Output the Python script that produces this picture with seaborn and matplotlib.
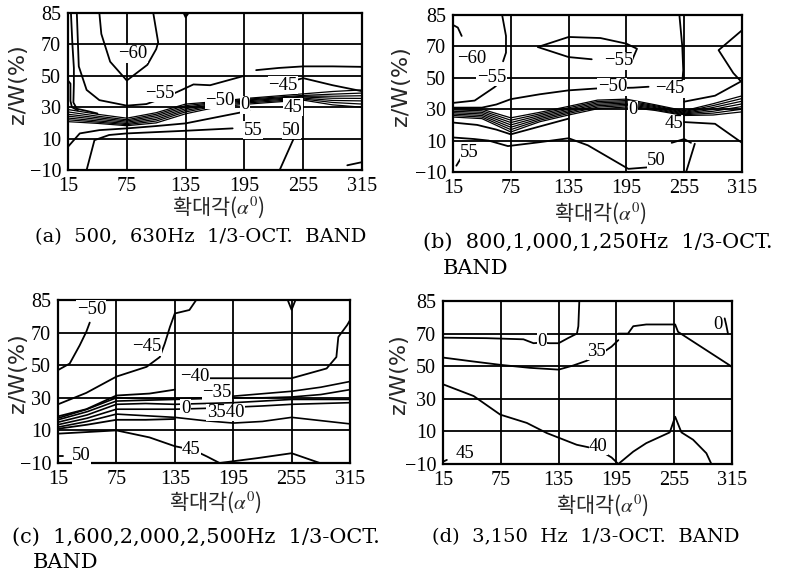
import numpy as np
import pandas as pd
import matplotlib
matplotlib.use("Agg")
import matplotlib.pyplot as plt
import seaborn as sns

# ---------------- data ----------------
ANGLES = [15, 75, 135, 195, 255, 315]
ANGLE_LABELS = ["15", "75", "135", "195", "255", "315"]
ZW_TICKS = [-10, 10, 30, 50, 70, 85]
ZW_LABELS = ["\u221210", "10", "30", "50", "70", "85"]
BAND_X = [15, 45, 75, 105, 135, 165, 195, 225, 255, 285, 315]

# (a) 500, 630 Hz  -- contour lines: (level, angles, z/W)
A_LINES = [
    (-60, [47, 49, 58, 75, 96, 105, 107, 102], [85, 75, 59, 47, 57, 67, 71, 85]),
    (-55, [24, 26, 34, 47, 75, 95, 115, 131, 143, 160, 195],
          [85, 56, 41, 34.5, 31, 32, 36.5, 41, 44.5, 44, 50]),
    (-50, [18, 19.5, 21, 21, 20.5, 24, 35, 45], [85, 70, 55, 45, 33, 29, 27.5, 26]),
    (-50, [15, 17.5, 17.5, 19, 25], [47, 45, 34, 30, 28]),
    (-45, [240, 255, 285, 315], [46, 48.5, 44, 40.2]),
    (-50, [207, 230, 255, 285, 315], [53.6, 55, 56, 56, 55.7]),
    (50, [15, 27, 47, 75, 105, 135, 160, 190, 200], [4.8, 13.3, 15.4, 16.5, 18, 19.7, 22.8, 26.5, 28]),
    (55, [34, 42, 57, 75, 135, 183], [-10, 9, 12.3, 13.3, 15, 16.5]),
    (50, [231, 246, 250], [-10, 11, 14]),
    (50, [300, 315], [-7, -5]),
    (-60, [133, 135, 138], [85, 83, 85]),
]
A_BAND = [
    [28.5, 25.5, 23, 26.5, 32, 33.5, 35.5, 37, 38.5, 40, 41],
    [27, 24.3, 22, 25.5, 31, 33, 35, 36.3, 37.5, 38.3, 39],
    [25.5, 23.3, 21.2, 24.5, 30, 32.5, 34.5, 35.7, 37, 37, 37.3],
    [24.3, 22.3, 20.4, 23.4, 29, 32, 34, 35.2, 36.5, 35.7, 35.6],
    [23.1, 21.3, 19.6, 22.3, 28, 31.3, 33.3, 34.6, 35.8, 34.3, 34],
    [22, 20.5, 18.9, 21.2, 27, 30.6, 32.6, 33.9, 35.2, 33, 32],
    [20.8, 19.7, 18.2, 20, 25.8, 29.8, 31.8, 33.2, 34.5, 31.5, 30],
]
A_TEXT = [("\u221260", 81, 64), ("\u221255", 108.5, 38.7), ("\u221250", 170, 34.5),
          ("0", 196, 31.5), ("\u221245", 234, 44), ("45", 244.6, 30),
          ("55", 204, 15.4), ("50", 243, 15.4)]

# (b) 800, 1,000, 1,250 Hz
B_LINES = [
    (-55, [16, 20, 24], [80, 79, 75]),
    (-60, [66, 70, 70, 67], [85, 75, 66, 60.5]),
    (-55, [159, 135, 103, 135, 168, 195, 206, 199], [61.8, 63.2, 69.6, 74.5, 74, 71.3, 68.5, 58.5]),
    (-55, [15, 37.5, 58, 69], [34, 35.5, 44, 50]),
    (-50, [15, 45, 60, 75, 105, 135, 164, 202, 218], [31, 31, 33, 36.4, 39.5, 42, 43.2, 43.7, 44.3]),
    (-45, [315, 290.7, 306, 314, 287, 255], [77.7, 67.6, 53, 47.7, 38.6, 34.8]),
    (-45, [250, 253, 254, 253], [85, 70, 55, 47]),
    (50, [15, 40, 60, 75, 105, 135], [21.5, 20, 17, 14, 19, 24]),
    (50, [15, 37, 52, 72, 105, 135, 155, 183, 197, 218], [12, 11, 10, 6.5, 9, 11.5, 7, -3, -8, -7]),
    (55, [18.5, 23.7], [-6, -0.7]),
    (50, [242, 255, 262], [8.6, 11, 8.6]),
    (50, [266, 257], [8, -10]),
    (45, [255, 287, 315], [21.8, 20.7, 8.6]),
]
B_BAND = [
    [30.5, 30, 24.5, 28, 31.8, 35.8, 36.4, 32.8, 29, 33.5, 38.5],
    [29.6, 29, 23, 27, 30.9, 34.9, 35.5, 32.2, 28.5, 32.3, 36.8],
    [28.7, 28, 21.5, 26, 30, 34, 34.7, 31.6, 28, 31.1, 35.1],
    [27.8, 27, 20, 25, 29.1, 33.1, 33.9, 31, 27.5, 29.9, 33.4],
    [26.9, 26, 18.5, 24, 28.2, 32.2, 33.1, 30.4, 27, 28.7, 31.7],
    [26, 25, 17, 23, 27.3, 31.3, 32.3, 29.8, 26.5, 27.5, 30],
    [25, 24, 15.5, 22, 26.3, 30.3, 31.4, 29.2, 26, 26.3, 28.3],
]
B_TEXT = [("\u221260", 34, 62.5), ("\u221255", 55, 50.5), ("\u221255", 186.7, 60.8),
          ("\u221250", 180.4, 44.3), ("\u221245", 240, 43), ("0", 202, 29.6),
          ("45", 244, 20.7), ("55", 32.3, 2.4), ("50", 226.5, -2.8)]

# (c) 1,600, 2,000, 2,500 Hz
C_LINES = [
    (-50, [15, 27, 37.3, 44.1, 47.6], [47, 51, 62.2, 70.4, 74.6]),
    (-45, [15, 44, 75, 106, 119.6, 124.7, 130, 135, 150, 157],
          [26, 33, 43, 49, 55, 63.3, 72.6, 78.8, 80.4, 85]),
    (-40, [15, 44, 75, 109, 135], [18.6, 23, 31.4, 32.6, 35]),
    (-40, [165, 195, 255, 291, 301, 303, 312, 315], [42, 42, 42, 48, 55, 67.3, 73.4, 75.7]),
    (45, [15, 45, 75, 109, 135, 154, 168, 181], [8, 9, 10, 5.7, 0.3, -2, -6, -10]),
    (50, [181, 220, 255, 284], [-10, -7, -4, -10]),
    (-50, [251, 255, 259], [85, 80.5, 85]),
    (50, [15, 20], [-5.5, -5.5]),
    (35, [15, 45, 75, 105, 135], [11, 13.5, 16.5, 16.5, 17]),
]
C_BAND = [
    [17.5, 23, 30, 29.5, 29.5, 30, 31, 32.5, 34, 36.5, 40],
    [16.5, 21.5, 28, 28.5, 29, 29.5, 30, 30, 30.5, 32, 35],
    [15, 19.5, 26, 26.5, 26, 26.5, 27, 28, 29, 29, 29],
    [13.5, 17.5, 23, 23, 23, 23.5, 24.2, 25, 26, 26.5, 27],
    [12, 15.5, 20, 19, 18, 16, 14.5, 15.5, 18, 16, 14],
]
C_TEXT = [("\u221250", 49.3, 80.8), ("\u221245", 106, 61.2), ("\u221240", 155.6, 43),
          ("\u221235", 178, 33.5), ("0", 146, 23.7), ("3540", 187, 21),
          ("45", 152, -1.8), ("50", 39, -5.5)]

# (d) 3,150 Hz
D_LINES = [
    (0, [15, 60, 98.5, 109, 117.5, 126, 135, 145, 154, 155.5, 156.5],
        [67.5, 67.2, 66.5, 64.1, 64.5, 64.1, 64.1, 67.3, 70, 73.4, 85]),
    (35, [15, 45, 75, 105, 135, 150, 164, 180, 190, 197],
         [55.3, 53, 50.8, 49, 47.9, 50.4, 53.3, 58, 62, 66]),
    (35, [197, 207, 212.5, 226, 256, 259, 313, 315], [70, 70, 73.4, 74.2, 74.2, 70.8, 50.4, 49.4]),
    (0, [307.4, 309, 310.8], [77, 74, 70]),
    (40, [15, 46.8, 74.4, 102, 122.7, 153.8, 176, 190, 197],
         [38.9, 31.7, 20.3, 15.2, 9, 1.8, -1, -6, -10]),
    (40, [197, 212.5, 226, 250.4, 256, 262.5, 274.6, 288.4, 293.6],
         [-10, -2.4, 2.8, 9.4, 19, 9.4, 4.9, -3.4, -10]),
    (45, [15, 19], [-8.6, -7.5]),
]
D_BAND = []
D_TEXT = [("0", 117.5, 65.1), ("35", 174.5, 59.2), ("40", 176.2, 0.8),
          ("45", 38.1, -3.4), ("0", 300.5, 74.2)]

CAPTIONS = {
    "a": ["(a)  500,  630Hz  1/3-OCT.  BAND"],
    "b": ["(b)  800,1,000,1,250Hz  1/3-OCT.", "BAND"],
    "c": ["(c)  1,600,2,000,2,500Hz  1/3-OCT.", "BAND"],
    "d": ["(d)  3,150  Hz  1/3-OCT.  BAND"],
}
XLABEL = "\ud655\ub300\uac01($\\alpha^0$)"
YLABEL = "z/W(%)"

# ---------------- drawing ----------------
sns.set_theme(style="white")
plt.rcParams["font.family"] = ["Liberation Serif", "DejaVu Serif", "DejaVu Sans"]
plt.rcParams["mathtext.fontset"] = "stix"

W, H = 799, 577
fig = plt.figure(figsize=(W / 100, H / 100), dpi=100)


def rect(l, t, r, b):
    return [l / W, 1 - b / H, (r - l) / W, (b - t) / H]


def fwd(v):
    return np.interp(v, ZW_TICKS, np.arange(len(ZW_TICKS)))


def inv(v):
    return np.interp(v, np.arange(len(ZW_TICKS)), ZW_TICKS)


def to_frame(lines, band):
    rows = []
    k = 0
    for lev, xs, ys in lines:
        for i, (x, y) in enumerate(zip(xs, ys)):
            rows.append((k, i, lev, x, y))
        k += 1
    for ys in band:
        for i, (x, y) in enumerate(zip(BAND_X, ys)):
            rows.append((k, i, 0, x, y))
        k += 1
    return pd.DataFrame(rows, columns=["line", "order", "level", "angle", "zw"])


panels = [
    # key, box(l,t,r,b), lines, band, text, ylabel x (px), xlabel y (px), xlabel x frac, band lw
    ("a", (68, 13, 362, 170), A_LINES, A_BAND, A_TEXT, 18, 207, 0.51, 0.9),
    ("b", (453, 15, 742, 172), B_LINES, B_BAND, B_TEXT, 401, 213, 0.51, 0.9),
    ("c", (58, 300, 350, 463), C_LINES, C_BAND, C_TEXT, 18, 502, 0.54, 1.2),
    ("d", (443, 301, 732, 464), D_LINES, D_BAND, D_TEXT, 399, 505, 0.55, 1.2),
]

for key, box, lines, band, texts, ylx, xly, xlx, blw in panels:
    l, t, r, b = box
    ax = fig.add_axes(rect(l, t, r, b))
    ax.set_yscale("function", functions=(fwd, inv))
    ax.set_xlim(15, 315)
    ax.set_ylim(-10, 85)
    sns.lineplot(data=to_frame(lines, []), x="angle", y="zw", units="line", estimator=None,
                 sort=False, color="black", linewidth=1.3, legend=False, ax=ax, zorder=3)
    if band:
        sns.lineplot(data=to_frame([], band), x="angle", y="zw", units="line", estimator=None,
                     sort=False, color="black", linewidth=blw, legend=False, ax=ax, zorder=3)
    ax.set_xlim(15, 315)
    ax.set_ylim(-10, 85)
    ax.set_xticks(ANGLES, labels=ANGLE_LABELS)
    ax.set_yticks(ZW_TICKS, labels=ZW_LABELS)
    ax.grid(True, color="black", linewidth=1.3, zorder=1)
    ax.set_axisbelow(True)
    for s in ax.spines.values():
        s.set_color("black")
        s.set_linewidth(1.6)
    ax.tick_params(length=0, pad=5, labelsize=14.5, colors="black")
    for s, x, y in texts:
        ax.text(x, y, s, ha="center", va="center", fontsize=13.5, color="black", zorder=6,
                bbox=dict(boxstyle="square,pad=0.02", fc="white", ec="none"))
    ax.set_xlabel(XLABEL, fontsize=15, family=["Noto Sans CJK KR", "DejaVu Sans"])
    ax.xaxis.label.set_va("center")
    ax.xaxis.set_label_coords(xlx, -(xly - b) / (b - t))
    ax.set_ylabel(YLABEL, fontsize=16, family=["DejaVu Sans"])
    ax.yaxis.label.set_va("center")
    ax.yaxis.set_label_coords(-(l - ylx) / (r - l), 0.55)

cap_font = dict(fontsize=14, family=["DejaVu Serif"], color="black", va="center", ha="left")
cap_wide = dict(cap_font, fontsize=15)
fig.text(35 / W, 1 - 237 / H, CAPTIONS["a"][0], **cap_font)
fig.text(423 / W, 1 - 242 / H, CAPTIONS["b"][0], **cap_wide)
fig.text(443 / W, 1 - 268 / H, CAPTIONS["b"][1], **cap_wide)
fig.text(12 / W, 1 - 537 / H, CAPTIONS["c"][0], **cap_wide)
fig.text(33 / W, 1 - 563 / H, CAPTIONS["c"][1], **cap_wide)
fig.text(432 / W, 1 - 537 / H, CAPTIONS["d"][0], **cap_font)

fig.savefig("out.png", dpi=100, facecolor="white")
